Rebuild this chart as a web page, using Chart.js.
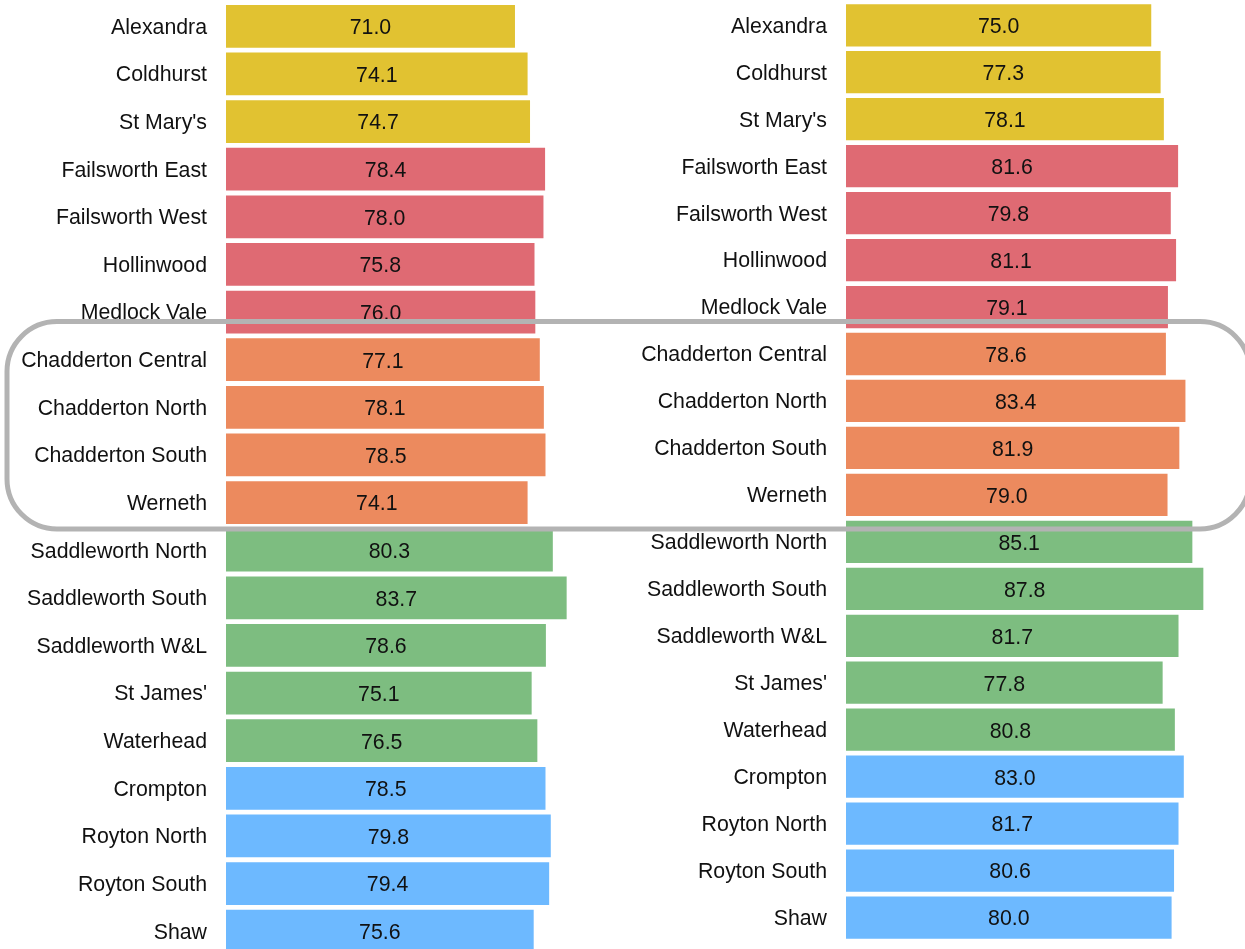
<!DOCTYPE html>
<html>
<head>
<meta charset="utf-8">
<script src="https://cdn.jsdelivr.net/npm/chart.js@4.4.0/dist/chart.umd.min.js"></script>
<style>
  html, body { margin: 0; padding: 0; background: #fff; overflow: hidden; width: 1245px; height: 949px; }
  canvas { position: absolute; top: 0; }
  #leftChart { left: 0; }
  #rightChart { left: 620px; }
  #frame { left: 0; pointer-events: none; }
</style>
</head>
<body>
<canvas id="leftChart" width="633" height="955"></canvas>
<canvas id="rightChart" width="633" height="941"></canvas>
<canvas id="frame" width="1245" height="949"></canvas>
<script>
const FONT = 'Arial, "Liberation Sans", sans-serif';

// wards, top to bottom
const wards = [
  'Alexandra', 'Coldhurst', "St Mary's",
  'Failsworth East', 'Failsworth West', 'Hollinwood', 'Medlock Vale',
  'Chadderton Central', 'Chadderton North', 'Chadderton South', 'Werneth',
  'Saddleworth North', 'Saddleworth South', 'Saddleworth W&L', "St James'", 'Waterhead',
  'Crompton', 'Royton North', 'Royton South', 'Shaw'
];
// district each ward belongs to (sets the bar colour)
const districts = [
  'central', 'central', 'central',
  'west', 'west', 'west', 'west',
  'north', 'north', 'north', 'north',
  'east', 'east', 'east', 'east', 'east',
  'northEast', 'northEast', 'northEast', 'northEast'
];
const leftValues = [71.0, 74.1, 74.7, 78.4, 78.0, 75.8, 76.0, 77.1, 78.1, 78.5, 74.1,
                    80.3, 83.7, 78.6, 75.1, 76.5, 78.5, 79.8, 79.4, 75.6];
const rightValues = [75.0, 77.3, 78.1, 81.6, 79.8, 81.1, 79.1, 78.6, 83.4, 81.9, 79.0,
                     85.1, 87.8, 81.7, 77.8, 80.8, 83.0, 81.7, 80.6, 80.0];
const highlighted = ['Chadderton Central', 'Werneth']; // first and last ward inside the frame

const districtColours = {
  central: '#E1C231',
  west: '#DF6A73',
  north: '#EC8A5E',
  east: '#7DBD80',
  northEast: '#6DB9FF'
};

// value written in the middle of each bar
const valueLabels = {
  id: 'valueLabels',
  afterDatasetsDraw(chart) {
    const ctx = chart.ctx;
    const meta = chart.getDatasetMeta(0);
    const data = chart.data.datasets[0].data;
    ctx.save();
    ctx.font = '21.3px ' + FONT;
    ctx.fillStyle = '#111';
    ctx.textAlign = 'center';
    ctx.textBaseline = 'middle';
    meta.data.forEach((bar, i) => {
      ctx.fillText(data[i].toFixed(1), (bar.base + bar.x) / 2, bar.y + 2);
    });
    ctx.restore();
  }
};

function makeChart(id, values, padTop) {
  return new Chart(document.getElementById(id), {
    type: 'bar',
    data: {
      labels: wards,
      datasets: [{
        data: values,
        backgroundColor: districts.map(d => districtColours[d]),
        barPercentage: 0.9,
        categoryPercentage: 1
      }]
    },
    options: {
      indexAxis: 'y',
      responsive: false,
      animation: false,
      layout: { padding: { top: padTop, left: 0, right: 0, bottom: 0 } },
      plugins: { legend: { display: false }, tooltip: { enabled: false } },
      scales: {
        x: { display: false, min: 0, max: 100 },
        y: {
          grid: { display: false, drawTicks: false },
          border: { display: false },
          ticks: {
            autoSkip: false, padding: 19, labelOffset: 1.5,
            color: '#111', font: { family: FONT, size: 21.3 }
          },
          afterFit(scale) {
            scale.width = 226;
            scale.paddingTop = 0;
            scale.paddingBottom = 0;
          }
        }
      }
    },
    plugins: [valueLabels]
  });
}

const leftChart = makeChart('leftChart', leftValues, 2.5);
const rightChart = makeChart('rightChart', rightValues, 1.8);

// grey rounded frame around the Chadderton rows of both charts
function drawFrame() {
  const ctx = document.getElementById('frame').getContext('2d');
  const i0 = wards.indexOf(highlighted[0]);
  const i1 = wards.indexOf(highlighted[1]);
  const edges = [leftChart, rightChart].map(c => {
    const y = c.scales.y;
    const pitch = y.getPixelForValue(1) - y.getPixelForValue(0);
    return [y.getPixelForValue(i0) - pitch / 2, y.getPixelForValue(i1) + pitch / 2];
  });
  const top = Math.min(edges[0][0], edges[1][0]) - 9;
  const bottom = Math.max(edges[0][1], edges[1][1]) + 2.6;
  const left = 7, right = 1250, r = 50;
  ctx.beginPath();
  ctx.moveTo(left + r, top);
  ctx.arcTo(right, top, right, bottom, r);
  ctx.arcTo(right, bottom, left, bottom, r);
  ctx.arcTo(left, bottom, left, top, r);
  ctx.arcTo(left, top, right, top, r);
  ctx.closePath();
  ctx.lineWidth = 5;
  ctx.strokeStyle = '#B3B3B3';
  ctx.stroke();
}
drawFrame();
</script>
</body>
</html>
